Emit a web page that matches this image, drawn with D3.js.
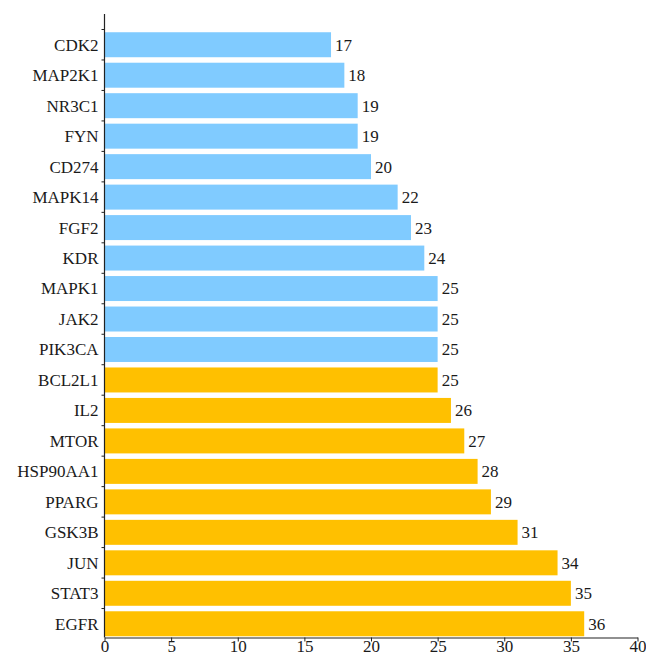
<!DOCTYPE html>
<html>
<head>
<meta charset="utf-8">
<script src="https://cdn.jsdelivr.net/npm/d3@7"></script>
<style>
  body { margin: 0; background: #fff; }
  text { font-family: "Liberation Serif", "DejaVu Serif", serif; fill: #1a1a1a; }
</style>
</head>
<body>
<svg id="chart"></svg>
<script>
// data, top to bottom
const genes = ["CDK2", "MAP2K1", "NR3C1", "FYN", "CD274", "MAPK14", "FGF2", "KDR", "MAPK1", "JAK2",
               "PIK3CA", "BCL2L1", "IL2", "MTOR", "HSP90AA1", "PPARG", "GSK3B", "JUN", "STAT3", "EGFR"];
const degrees = [17, 18, 19, 19, 20, 22, 23, 24, 25, 25, 25, 25, 26, 27, 28, 29, 31, 34, 35, 36];
const groups = ["a", "a", "a", "a", "a", "a", "a", "a", "a", "a",
                "a", "b", "b", "b", "b", "b", "b", "b", "b", "b"];
const xTicks = [0, 5, 10, 15, 20, 25, 30, 35, 40];

const width = 646, height = 657;
const axisX = 104.5, axisY = 637.5, axisTop = 14;

const svg = d3.select("#chart").attr("width", width).attr("height", height);

const x = d3.scaleLinear().domain([0, 40]).range([axisX, 637.5]);
const y = d3.scaleBand().domain(genes).range([29.5, 639]).paddingInner(0.18).paddingOuter(0.09);
const color = d3.scaleOrdinal().domain(["a", "b"]).range(["#80cbff", "#ffc000"]);

// bars
svg.append("g").selectAll("rect")
    .data(genes)
    .enter()
    .append("rect")
    .attr("x", axisX + 0.5)
    .attr("y", d => y(d))
    .attr("width", (d, i) => x(degrees[i]) - axisX - 0.5)
    .attr("height", y.bandwidth())
    .attr("fill", (d, i) => color(groups[i]));

// value labels
svg.append("g").selectAll("text")
    .data(genes)
    .enter()
    .append("text")
    .attr("x", (d, i) => x(degrees[i]) + 4)
    .attr("y", d => y(d) + y.bandwidth() / 2)
    .attr("dy", "0.35em")
    .style("font-size", "17px")
    .text((d, i) => degrees[i]);

// category labels
svg.append("g").selectAll("text")
    .data(genes)
    .enter()
    .append("text")
    .attr("x", axisX - 6)
    .attr("y", d => y(d) + y.bandwidth() / 2)
    .attr("dy", "0.35em")
    .attr("text-anchor", "end")
    .style("font-size", "17px")
    .text(d => d);

// y axis line + ticks between bands
const step = y.step();
const bandEdges = d3.range(genes.length).map(i => y(genes[i]) - (step - y.bandwidth()) / 2);
svg.append("line")
    .attr("x1", axisX).attr("x2", axisX)
    .attr("y1", axisTop).attr("y2", axisY)
    .attr("stroke", "#222").attr("stroke-width", 1.2);
svg.append("g").selectAll("line")
    .data(bandEdges)
    .enter()
    .append("line")
    .attr("x1", axisX - 3).attr("x2", axisX)
    .attr("y1", d => d).attr("y2", d => d)
    .attr("stroke", "#222").attr("stroke-width", 1);

// x axis
const xAxis = svg.append("g")
    .attr("transform", `translate(0, ${axisY})`)
    .call(d3.axisBottom(x).tickValues(xTicks).tickSize(4).tickSizeOuter(0));
xAxis.select(".domain").attr("stroke", "#222").attr("stroke-width", 1.2);
xAxis.selectAll(".tick line").attr("stroke", "#222");
xAxis.selectAll("text")
    .attr("y", 2)
    .attr("dy", "0.71em")
    .style("font-size", "17px")
    .style("font-family", "Liberation Serif, serif")
    .attr("fill", "#1a1a1a");
</script>
</body>
</html>
